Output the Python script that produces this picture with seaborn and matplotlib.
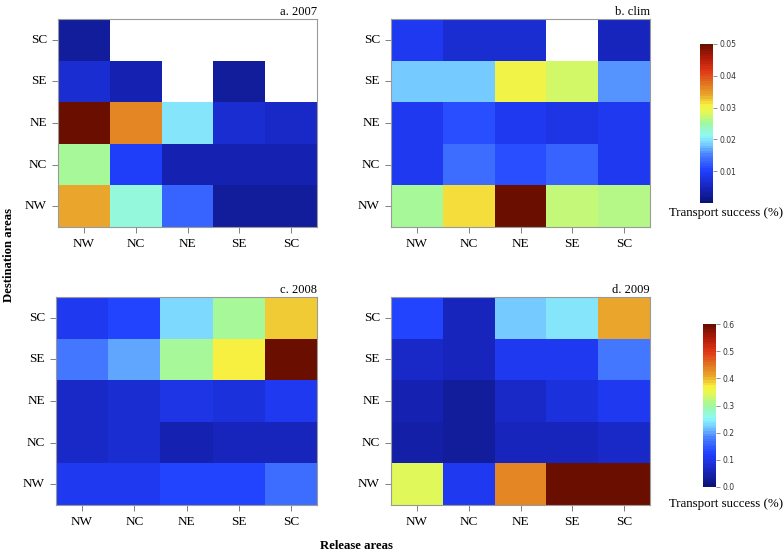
import numpy as np
import matplotlib
matplotlib.use("Agg")
import matplotlib.pyplot as plt
import seaborn as sns
from matplotlib.colors import LinearSegmentedColormap

# release areas (columns) and destination areas (rows, top to bottom)
release = ["NW", "NC", "NE", "SE", "SC"]
dest = ["SC", "SE", "NE", "NC", "NW"]

nan = np.nan
# a. 2007 (scale 0-0.05)
y2007 = [
    [0.003, nan, nan, nan, nan],
    [0.007, 0.004, nan, 0.003, nan],
    [0.050, 0.036, 0.020, 0.007, 0.006],
    [0.025, 0.010, 0.004, 0.0045, 0.0045],
    [0.034, 0.022, 0.013, 0.003, 0.003],
]
# b. clim (scale 0-0.05)
clim = [
    [0.009, 0.007, 0.007, nan, 0.005],
    [0.018, 0.018, 0.030, 0.028, 0.016],
    [0.009, 0.011, 0.009, 0.008, 0.009],
    [0.009, 0.014, 0.011, 0.013, 0.009],
    [0.025, 0.032, 0.050, 0.027, 0.026],
]
# c. 2008 (scale 0-0.6)
y2008 = [
    [0.11, 0.13, 0.23, 0.30, 0.385],
    [0.17, 0.20, 0.30, 0.37, 0.60],
    [0.07, 0.08, 0.10, 0.09, 0.11],
    [0.07, 0.08, 0.055, 0.06, 0.06],
    [0.11, 0.11, 0.13, 0.13, 0.16],
]
# d. 2009 (scale 0-0.6)
y2009 = [
    [0.13, 0.06, 0.22, 0.24, 0.41],
    [0.07, 0.06, 0.11, 0.11, 0.17],
    [0.055, 0.03, 0.07, 0.09, 0.11],
    [0.04, 0.03, 0.06, 0.06, 0.07],
    [0.34, 0.11, 0.44, 0.60, 0.60],
]

cmap = LinearSegmentedColormap.from_list("transport", [
    (0.00, "#0a1478"), (0.10, "#1826c0"), (0.20, "#2040ff"),
    (0.30, "#4a80ff"), (0.37, "#78d0ff"), (0.42, "#8ff8f8"),
    (0.50, "#a0f8a0"), (0.58, "#e8f850"), (0.62, "#f8f040"),
    (0.68, "#eaa82c"), (0.75, "#e07820"), (0.83, "#e03a18"),
    (0.92, "#b01a08"), (1.00, "#6a0f00"),
], N=64)

serif = "Liberation Serif"
W, H = 784, 553
fig = plt.figure(figsize=(W / 100, H / 100), dpi=100)


def box(l, t, r, b):
    return [l / W, 1 - b / H, (r - l) / W, (b - t) / H]


panels = [
    (y2007, "a. 2007", box(58, 19, 317, 227), 0.05),
    (clim, "b. clim", box(391, 19, 650, 227), 0.05),
    (y2008, "c. 2008", box(56, 297, 317, 505), 0.6),
    (y2009, "d. 2009", box(391, 297, 650, 505), 0.6),
]

maps = []
for data, title, pos, vmax in panels:
    ax = fig.add_axes(pos)
    sns.heatmap(np.array(data, dtype=float), ax=ax, cmap=cmap, vmin=0, vmax=vmax,
                cbar=False, xticklabels=release, yticklabels=dest)
    for s in ax.spines.values():
        s.set_visible(True)
        s.set_color("#9a9a9a")
        s.set_linewidth(0.8)
    ax.tick_params(length=4, width=0.7, color="#808080", pad=4)
    for lab in ax.get_xticklabels() + ax.get_yticklabels():
        lab.set_fontfamily(serif)
        lab.set_fontsize(9.5)
        lab.set_rotation(0)
    ax.set_title(title, loc="right", fontfamily=serif, fontsize=9, pad=3)
    maps.append(ax.collections[0])

for mappable, pos, ticks, lab_y in [
    (maps[1], box(700, 44, 713, 203), [0.01, 0.02, 0.03, 0.04, 0.05], 213),
    (maps[3], box(703, 324, 716, 487), [0.0, 0.1, 0.2, 0.3, 0.4, 0.5, 0.6], 504),
]:
    cax = fig.add_axes(pos)
    cb = fig.colorbar(mappable, cax=cax, ticks=ticks)
    cb.outline.set_visible(False)
    cb.ax.tick_params(labelsize=5.5, length=3, width=0.6, color="#808080",
                      labelcolor="#333333", pad=2)
    fig.text(726 / W, 1 - lab_y / H, "Transport success (%)", fontfamily=serif,
             fontsize=9.3, ha="center", va="center")

fig.text(9 / W, 1 - 255 / H, "Destination areas", fontfamily=serif, fontsize=9.2,
         fontweight="bold", rotation=90, ha="center", va="center")
fig.text(356 / W, 1 - 546 / H, "Release areas", fontfamily=serif, fontsize=9.2,
         fontweight="bold", ha="center", va="center")

fig.savefig("out.png", dpi=100)
